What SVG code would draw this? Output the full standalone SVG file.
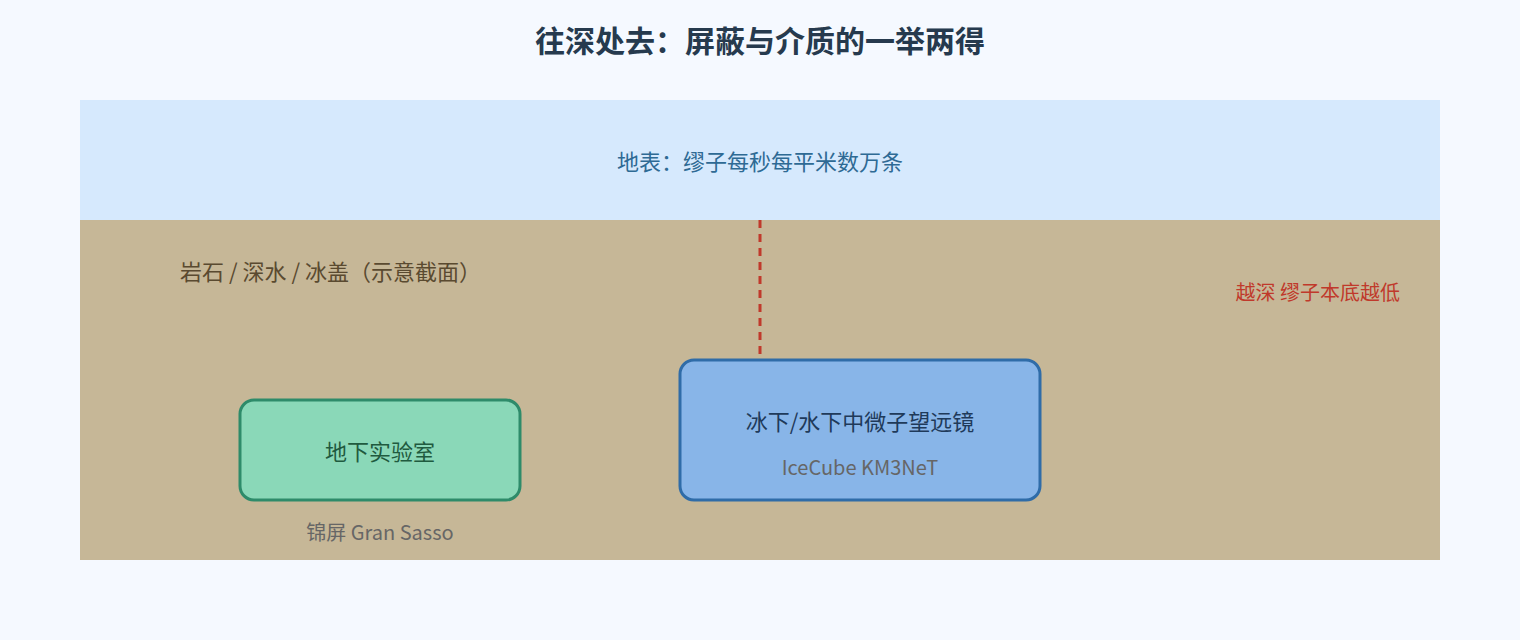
<svg xmlns="http://www.w3.org/2000/svg" width="1520" height="640" viewBox="0 0 1520 640">
<style>
text{font-family:"Noto Sans CJK SC","Noto Sans",sans-serif;text-anchor:middle}
.sub{font-size:20px;fill:#666}
</style>
<rect width="1520" height="640" fill="#f5f9ff"/>
<text x="760" y="52" font-size="30" font-weight="bold" fill="#263a4e">往深处去：屏蔽与介质的一举两得</text>
<g id="surface"><rect x="80" y="100" width="1360" height="120" fill="#d6e9fd"/>
<text x="760" y="170" font-size="22" fill="#2e6a94">地表：缪子每秒每平米数万条</text></g>
<g id="ground"><rect x="80" y="220" width="1360" height="340" fill="#c6b797"/>
<text x="180" y="280" font-size="22" fill="#5a4a30" style="text-anchor:start">岩石 / 深水 / 冰盖（示意截面）</text>
<text x="1400" y="300" font-size="20" fill="#c0392b" style="text-anchor:end">越深 缪子本底越低</text></g>
<g id="connectors"><line x1="760" y1="220" x2="760" y2="358" stroke="#c0392b" stroke-width="3" stroke-dasharray="8,6"/></g>
<g id="lab"><rect x="240" y="400" width="280" height="100" rx="14" fill="#8ad8b8" stroke="#2e8b6a" stroke-width="3"/>
<text x="380" y="460" font-size="22" fill="#1f5a3f">地下实验室</text>
<text x="380" y="540" class="sub">锦屏 Gran Sasso</text></g>
<g id="telescope"><rect x="680" y="360" width="360" height="140" rx="14" fill="#88b5e8" stroke="#2f6ca8" stroke-width="3"/>
<text x="860" y="430" font-size="22" fill="#1f3a5a">冰下/水下中微子望远镜</text>
<text x="860" y="475" class="sub">IceCube KM3NeT</text></g>
</svg>
